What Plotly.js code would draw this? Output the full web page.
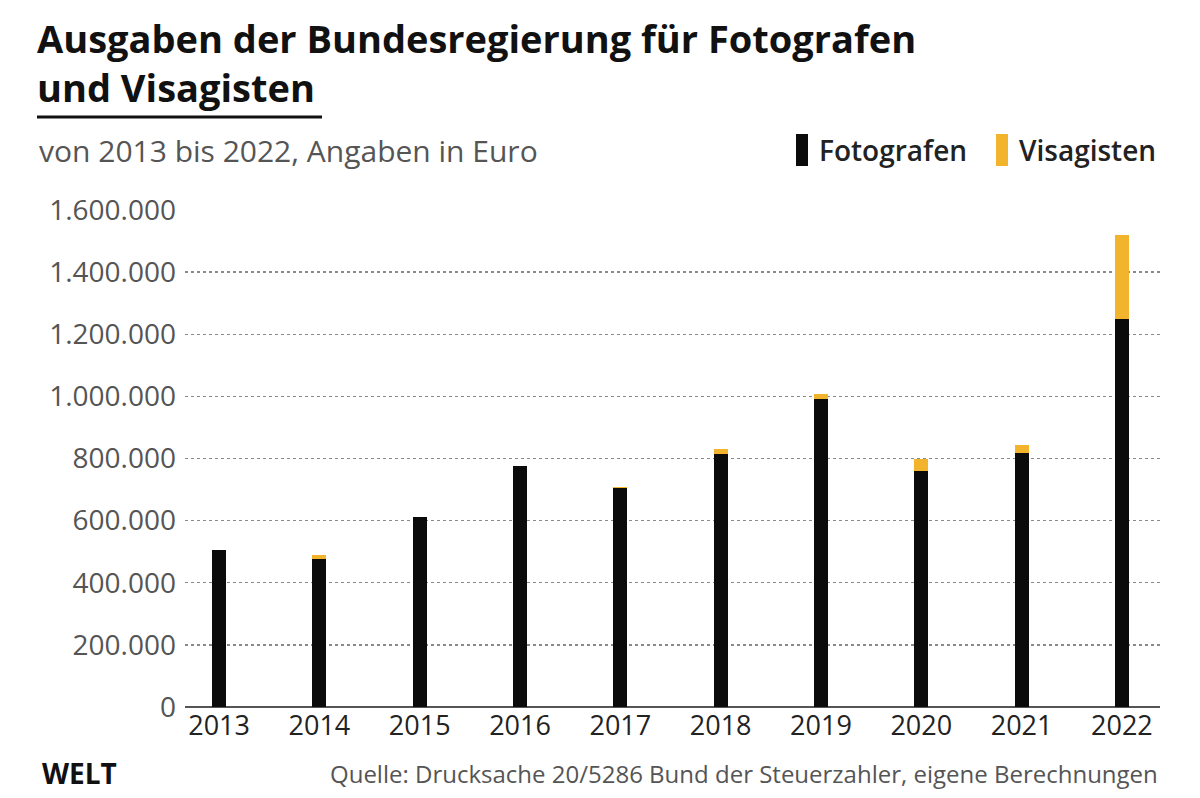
<!DOCTYPE html>
<html><head><meta charset="utf-8">
<script src="https://cdn.plot.ly/plotly-3.0.1.min.js"></script>
<style>html,body{margin:0;padding:0;background:#fff}#chart{width:1200px;height:798px}</style>
</head><body><div id="chart"></div>
<script>
// ---- data ----
const years = [2013, 2014, 2015, 2016, 2017, 2018, 2019, 2020, 2021, 2022];
const fotografen = [505000, 478000, 611000, 775000, 704000, 815000, 993000, 760000, 817000, 1250000];
const visagisten = [0, 10000, 0, 0, 4000, 16000, 16000, 40000, 25000, 268000];
const yTicks = [0, 200000, 400000, 600000, 800000, 1000000, 1200000, 1400000, 1600000];
const seriesNames = ['Fotografen', 'Visagisten'];
const titleText = '<b>Ausgaben der Bundesregierung für Fotografen<br>und Visagisten</b>';
const subtitleText = 'von 2013 bis 2022, Angaben in Euro';
const sourceText = 'Quelle: Drucksache 20/5286 Bund der Steuerzahler, eigene Berechnungen';
const brandText = '<b>WELT</b>';

// ---- layout geometry (pixels) ----
const W = 1200, H = 798;
const L = 185, R = 1160, T = 210, B = 707;
const px = x => (x - L) / (R - L);
const py = y => (B - y) / (B - T);
const FONT = 'Open Sans, Lato, sans-serif';
const BLACK = '#0b0b0b', YELLOW = '#F1B42C';

const traces = [
  {type: 'bar', name: seriesNames[0], x: years, y: fotografen, marker: {color: BLACK}, width: 0.14, showlegend: false, hoverinfo: 'x+y'},
  {type: 'bar', name: seriesNames[1], x: years, y: visagisten, marker: {color: YELLOW}, width: 0.14, showlegend: false, hoverinfo: 'x+y'}
];

const layout = {
  width: W, height: H,
  margin: {l: L, r: W - R, t: T, b: H - B, pad: 0},
  paper_bgcolor: '#fff', plot_bgcolor: '#fff',
  separators: ',.',
  barmode: 'stack',
  font: {family: FONT, color: '#222'},
  xaxis: {
    range: [years[0] - 0.34, years[years.length - 1] + 0.38],
    tickvals: years, ticktext: years.map(String),
    showgrid: false, zeroline: false, showline: false, ticks: '',
    tickfont: {family: FONT, size: 27, color: '#222'}
  },
  yaxis: {
    range: [0, 1600000], tickvals: yTicks, tickformat: ',d',
    showgrid: true, gridcolor: '#8a8a8a', griddash: 'dot', gridwidth: 1.3,
    zeroline: true, zerolinecolor: '#555', zerolinewidth: 1.5,
    showline: false, ticks: '', ticklabelstandoff: 8,
    tickfont: {family: FONT, size: 28, color: '#555'}
  },
  shapes: [
    {type: 'line', xref: 'paper', yref: 'paper', x0: px(37), x1: px(322), y0: py(117), y1: py(117), line: {color: '#111', width: 3}},
    {type: 'rect', xref: 'paper', yref: 'paper', x0: px(796), x1: px(808), y0: py(166), y1: py(134), fillcolor: BLACK, line: {width: 0}},
    {type: 'rect', xref: 'paper', yref: 'paper', x0: px(996), x1: px(1008), y0: py(166), y1: py(134), fillcolor: YELLOW, line: {width: 0}}
  ],
  annotations: [
    {text: titleText, xref: 'paper', yref: 'paper', x: px(35), y: py(10), xanchor: 'left', yanchor: 'top', align: 'left', showarrow: false, font: {family: FONT, size: 38, color: '#111'}},
    {text: subtitleText, xref: 'paper', yref: 'paper', x: px(37), y: py(150), xanchor: 'left', yanchor: 'middle', showarrow: false, font: {family: FONT, size: 30, color: '#555'}},
    {text: seriesNames[0], xref: 'paper', yref: 'paper', x: px(817), y: py(150), xanchor: 'left', yanchor: 'middle', showarrow: false, font: {family: FONT, size: 28, color: '#222', weight: 600}},
    {text: seriesNames[1], xref: 'paper', yref: 'paper', x: px(1017), y: py(150), xanchor: 'left', yanchor: 'middle', showarrow: false, font: {family: FONT, size: 28, color: '#222', weight: 600}},
    {text: brandText, xref: 'paper', yref: 'paper', x: px(40), y: py(773), xanchor: 'left', yanchor: 'middle', showarrow: false, font: {family: FONT, size: 28, color: '#111'}},
    {text: sourceText, xref: 'paper', yref: 'paper', x: px(1160), y: py(773), xanchor: 'right', yanchor: 'middle', showarrow: false, font: {family: FONT, size: 24, color: '#555'}}
  ]
};

Plotly.newPlot('chart', traces, layout, {displayModeBar: false, staticPlot: true});
</script>
</body></html>
